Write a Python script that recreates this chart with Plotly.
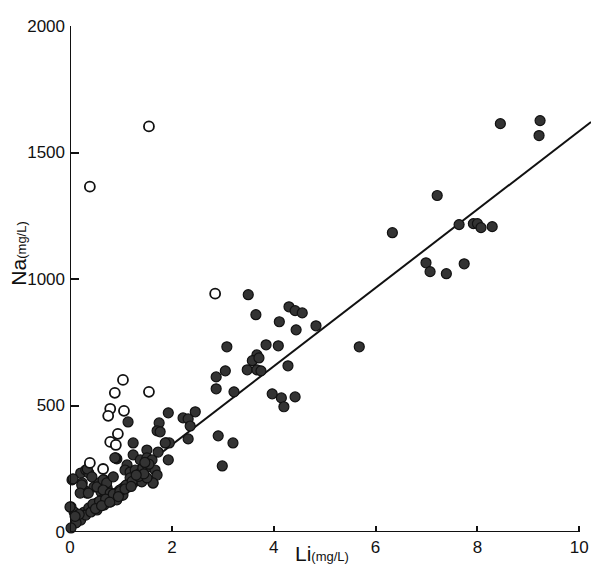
import plotly.graph_objects as go

# Open circles (Li, Na)
open_li = [1.55, 0.39, 2.85, 1.04, 0.88, 1.55, 0.79, 1.06, 0.75, 0.94, 0.79, 0.90, 0.39, 0.65]
open_na = [1603, 1365, 942, 601, 550, 554, 487, 479, 459, 388, 356, 344, 273, 249]

# Filled circles (Li, Na)
filled_li = [
    8.45, 9.23, 9.21, 7.21, 6.33, 7.64, 7.92, 8.00, 8.07, 8.29, 6.99, 7.07, 7.39, 7.74,
    3.50, 3.65, 4.30, 4.42, 4.56, 4.11, 4.83, 4.44, 5.68, 3.08, 3.85, 4.09, 3.67, 3.58,
    3.71, 3.05, 3.48, 3.67, 3.75, 4.28, 2.87, 2.87, 3.22, 3.97, 4.15, 4.20, 4.42,
    1.93, 2.46, 2.22, 2.32, 2.36, 1.75, 1.71, 1.77, 2.32, 2.91, 3.20, 1.89, 1.95, 1.93, 2.99,
    1.14, 1.24, 1.51, 0.92, 1.63,
    0.02, 0.04, 0.21, 0.31, 0.37, 0.24, 0.28, 0.33, 0.47, 0.57, 0.67, 0.73, 0.61, 0.90,
    0.08, 0.14, 0.21, 0.12, 0.02, 0.28, 0.37, 0.47, 0.53, 0.63, 0.73, 0.82, 0.92, 1.00,
    0.31, 0.41, 0.53, 0.67, 0.80, 0.92, 1.02,
    1.87, 0.88, 1.24, 1.38, 1.51, 1.61, 1.73, 1.12, 1.08, 1.18, 1.28, 1.38, 1.43, 1.53,
    1.67, 1.71, 1.63, 1.32, 1.24, 1.14, 0.98, 1.04, 0.92, 1.18, 1.41, 1.51,
    0.06, 0.00, 0.23, 0.34, 0.43, 0.20, 0.36, 0.53, 0.65, 0.72, 0.85, 0.65, 0.79,
    0.45, 0.58, 0.70, 0.85, 0.98, 1.10, 1.22, 1.35, 1.45, 0.18, 0.10, 0.50, 0.62,
    0.78, 0.95, 1.08, 1.20, 1.30, 1.55, 1.47,
]
filled_na = [
    1614, 1626, 1567, 1330, 1183, 1215, 1219, 1219, 1203, 1207, 1064, 1029, 1021, 1060,
    938, 859, 890, 875, 866, 831, 815, 799, 732, 732, 740, 736, 700, 677,
    688, 637, 641, 641, 637, 657, 613, 566, 554, 546, 530, 495, 534,
    471, 475, 451, 447, 419, 431, 400, 396, 368, 380, 352, 352, 352, 285, 261,
    435, 352, 324, 289, 194,
    99, 206, 233, 245, 233, 194, 166, 154, 178, 194, 206, 174, 158, 293,
    79, 59, 47, 36, 16, 79, 95, 99, 115, 127, 135, 139, 154, 166,
    67, 79, 87, 107, 119, 135, 146,
    352, 293, 305, 285, 293, 285, 316, 265, 245, 237, 245, 233, 253, 257,
    245, 225, 194, 206, 194, 178, 166, 146, 127, 214, 198, 214,
    210, 99, 186, 249, 218, 154, 154, 178, 206, 194, 218, 166, 154,
    110, 122, 130, 150, 160, 185, 200, 220, 230, 70, 62, 92, 104,
    118, 140, 170, 180, 225, 268, 275,
]

# Regression line parameters
fit_intercept = 35
fit_slope = 155
fit_x = [0.1, 10.23]
fit_y = [fit_intercept + fit_slope * v for v in fit_x]

x_ticks = [0, 2, 4, 6, 8, 10]
x_tick_labels = ["0", "2", "4", "6", "8", "10"]
y_ticks = [0, 500, 1000, 1500, 2000]
y_tick_labels = ["0", "500", "1000", "1500", "2000"]

FONT = "Liberation Sans, Arial, sans-serif"

fig = go.Figure()

fig.add_trace(go.Scatter(
    x=fit_x, y=fit_y, mode="lines",
    line=dict(color="#111111", width=2), showlegend=False, hoverinfo="skip",
))
fig.add_trace(go.Scatter(
    x=filled_li, y=filled_na, mode="markers", cliponaxis=False,
    marker=dict(size=10, color="#333333", line=dict(color="#111111", width=1.2)),
    showlegend=False,
))
fig.add_trace(go.Scatter(
    x=open_li, y=open_na, mode="markers", cliponaxis=False,
    marker=dict(size=10, color="white", line=dict(color="#111111", width=1.8)),
    showlegend=False,
))

# axis lines
fig.add_shape(type="line", x0=0, x1=10, y0=0, y1=0, xref="x", yref="y",
              line=dict(color="#111111", width=2))
fig.add_shape(type="line", x0=0, x1=0, y0=0, y1=2000, xref="x", yref="y",
              line=dict(color="#111111", width=2))

fig.update_xaxes(
    range=[0, 10.23], showgrid=False, zeroline=False, showline=False,
    automargin=False,
    tickmode="array", tickvals=x_ticks, ticktext=x_tick_labels,
    ticks="inside", ticklen=6, tickwidth=2, tickcolor="#111111",
    tickfont=dict(family=FONT, size=17, color="#111111"),
    ticklabelstandoff=3,
)
fig.update_yaxes(
    range=[0, 2000], showgrid=False, zeroline=False, showline=False,
    automargin=False,
    tickmode="array", tickvals=y_ticks, ticktext=y_tick_labels,
    ticks="inside", ticklen=9, tickwidth=2, tickcolor="#111111",
    tickfont=dict(family=FONT, size=17, color="#111111"),
    ticklabelstandoff=4,
)

fig.add_annotation(
    x=0.484, y=-0.043, xref="paper", yref="paper",
    text="Li<span style='font-size:13px'>(mg/L)</span>",
    showarrow=False, font=dict(family=FONT, size=21, color="#111111"),
    xanchor="center", yanchor="middle",
)
fig.add_annotation(
    x=-0.098, y=0.55, xref="paper", yref="paper", textangle=-90,
    text="Na<span style='font-size:13px'>(mg/L)</span>",
    showarrow=False, font=dict(family=FONT, size=21, color="#111111"),
    xanchor="center", yanchor="middle",
)

fig.update_layout(
    width=591, height=565,
    margin=dict(l=70, r=0, t=26, b=33, autoexpand=False),
    paper_bgcolor="white", plot_bgcolor="white",
    showlegend=False,
)

fig.write_html("out.html", config={"displayModeBar": False},
               post_script="document.body.style.margin='0';")
